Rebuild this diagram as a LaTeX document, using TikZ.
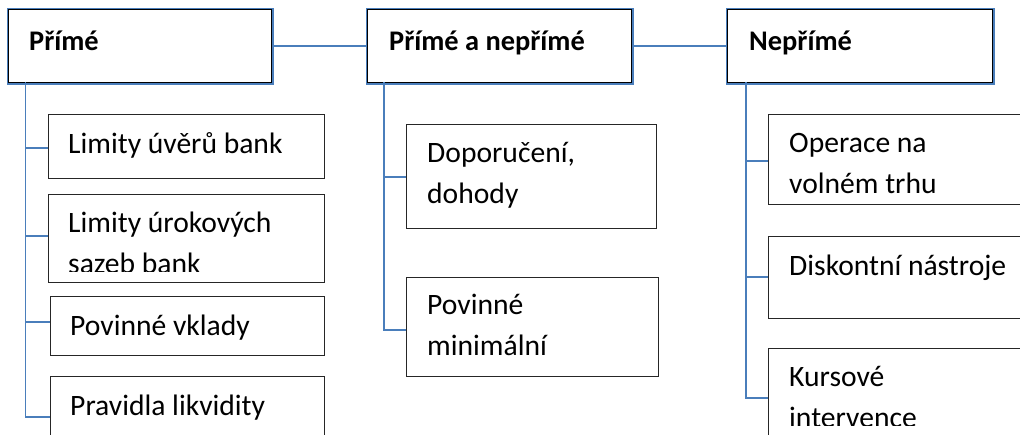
\documentclass[tikz,border=0pt]{standalone}
\usepackage{fontspec}
\setmainfont{Carlito}
\definecolor{lineblue}{HTML}{4A7EBB}
\begin{document}
\begin{tikzpicture}[x=1pt,y=-1pt,
  hdr/.style={draw=black, line width=1.4pt, fill=white, inner sep=0pt, anchor=north west,
    preaction={draw=lineblue, line width=3.8pt, rounded corners=1.5pt}},
  box/.style={draw=black!85, line width=1.1pt, inner sep=0pt, anchor=north west},
  conn/.style={draw=lineblue, line width=1.5pt},
  txt/.style={anchor=base west, inner sep=0pt, align=left, font=\fontsize{29.6}{41}\selectfont},
  htxt/.style={anchor=base west, inner sep=0pt, font=\fontsize{28.4}{34}\selectfont\bfseries}]
\clip (0,0) rectangle (1020,434);
\fill[white] (0,0) rectangle (1020,434);
% header boxes
\node[hdr, minimum width=263pt, minimum height=73pt] (P) at (8,9) {};
\node[hdr, minimum width=264pt, minimum height=73pt] (M) at (367,9) {};
\node[hdr, minimum width=265pt, minimum height=73pt] (N) at (727,9) {};
\node[htxt] (Pt) at (29,50) {Přímé};
\node[htxt] (Mt) at (389,50) {Přímé a nepřímé};
\node[htxt] (Nt) at (749,50) {Nepřímé};
% header connectors
\draw[conn] (P.east) -- (M.west);
\draw[conn] (M.east) -- (N.west);
% left column boxes
\node[box, minimum width=276pt, minimum height=64pt] (c1) at (48,114) {};
\node[box, minimum width=276pt, minimum height=88pt] (c2) at (48,194) {};
\node[box, minimum width=274pt, minimum height=59pt] (c3) at (50,296) {};
\node[box, minimum width=274pt, minimum height=80pt] (c4) at (50,376) {};
% middle column boxes
\node[box, minimum width=250pt, minimum height=104pt] (m1) at (406,124) {};
\node[box, minimum width=252pt, minimum height=99pt] (m2) at (406,277) {};
% right column boxes
\node[box, minimum width=262pt, minimum height=90pt] (r1) at (768,114) {};
\node[box, minimum width=262pt, minimum height=82pt] (r2) at (768,236) {};
\node[box, minimum width=262pt, minimum height=100pt] (r3) at (768,348) {};
% texts (multi-line nodes are placed by the baseline of their last line)
\node[txt] (c1t) at (68,153) {Limity úvěrů bank};
\begin{scope}
\clip (48,194) rectangle (324,271.5);
\node[txt] (c2t) at (68,273) {Limity úrokových\\sazeb bank};
\end{scope}
\node[txt] (c3t) at (70,335) {Povinné vklady};
\node[txt] (c4t) at (70,415) {Pravidla likvidity};
\node[txt] (m1t) at (427,203) {Doporučení,\\dohody};
\node[txt] (m2t) at (427,355) {Povinné\\minimální};
\node[txt] (r1t) at (789,193) {Operace na\\volném trhu};
\node[txt] (r2t) at (789,275) {Diskontní nástroje};
\begin{scope}
\clip (768,348) rectangle (1020,425.5);
\node[txt] (r3t) at (789,427) {Kursové\\intervence};
\end{scope}
% trunk coordinates
\coordinate (Pj) at (25.5,82);
\coordinate (Mj) at (384,82);
\coordinate (Nj) at (746,82);
% left branches
\draw[conn] (Pj) |- (c4.west |- 0,417);
\draw[conn] (Pj |- 0,148) -- (c1.west |- 0,148);
\draw[conn] (Pj |- 0,236) -- (c2.west |- 0,236);
\draw[conn] (Pj |- 0,322) -- (c3.west |- 0,322);
% middle branches
\draw[conn] (Mj) |- (m2.west |- 0,330);
\draw[conn] (Mj |- 0,177) -- (m1.west |- 0,177);
% right branches
\draw[conn] (Nj) |- (r3.west |- 0,398);
\draw[conn] (Nj |- 0,161) -- (r1.west |- 0,161);
\draw[conn] (Nj |- 0,277) -- (r2.west |- 0,277);
\end{tikzpicture}
\end{document}
